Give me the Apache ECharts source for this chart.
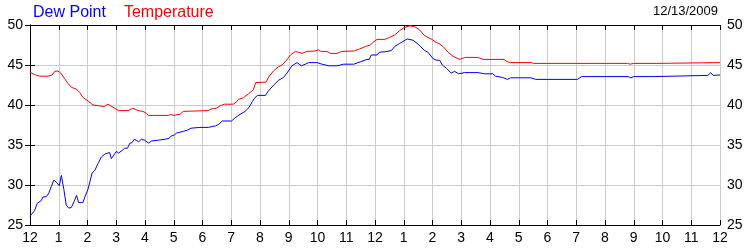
<!DOCTYPE html>
<html>
<head>
<meta charset="utf-8">
<script src="https://cdn.jsdelivr.net/npm/echarts@6/dist/echarts.min.js"></script>
<style>html,body{margin:0;padding:0;background:#fff}#c{width:750px;height:250px}</style>
</head>
<body>
<div id="c"></div>
<script>
// Hours since midnight (12/13/2009) and readings
const dewHours = [0.00,0.16,0.25,0.39,0.45,0.57,0.65,0.74,0.83,0.93,1.02,1.09,1.18,1.26,1.35,1.44,1.53,1.62,1.69,1.84,1.92,2.02,2.16,2.25,2.37,2.48,2.62,2.77,2.83,2.92,3.00,3.08,3.20,3.29,3.39,3.47,3.55,3.62,3.69,3.78,3.87,3.99,4.12,4.23,4.46,4.83,4.90,5.02,5.10,5.33,5.50,5.60,5.91,6.20,6.46,6.57,6.69,7.01,7.10,7.27,7.48,7.62,7.73,7.83,7.92,8.19,8.30,8.48,8.65,8.82,8.94,9.11,9.29,9.44,9.58,9.69,9.98,10.03,10.16,10.39,10.68,10.91,11.26,11.49,11.72,11.80,11.87,12.07,12.15,12.34,12.57,12.68,12.86,13.12,13.32,13.50,13.73,13.84,14.02,14.13,14.25,14.34,14.48,14.65,14.77,14.91,15.12,15.58,15.82,16.10,16.19,16.43,16.60,16.72,17.42,17.59,19.04,19.18,20.80,20.90,21.00,21.70,21.75,23.58,23.68,23.76,24.00];
const dewValues = [26.1,26.8,27.7,28.05,28.5,28.55,28.96,29.8,30.6,30.3,29.9,31.2,29.4,27.5,27.1,27.2,27.9,28.7,27.8,27.8,28.6,29.5,31.5,31.8,32.7,33.5,33.9,34.05,33.3,33.75,34.2,34.0,34.3,34.6,34.6,35.2,35.3,35.7,35.6,35.4,35.7,35.6,35.25,35.5,35.6,35.8,36.1,36.25,36.5,36.7,36.9,37.1,37.2,37.2,37.4,37.6,38.0,38.0,38.3,38.75,39.2,39.7,40.4,40.95,41.2,41.2,41.8,42.5,43.1,43.45,44.0,44.9,45.3,44.9,45.1,45.3,45.3,45.35,45.1,44.9,44.9,45.1,45.1,45.4,45.7,45.7,46.25,46.25,46.6,46.65,46.8,47.3,47.7,48.25,48.1,47.6,46.8,46.6,45.8,45.6,45.6,45.0,44.6,44.0,44.2,43.9,44.05,44.05,43.9,43.9,43.6,43.45,43.2,43.4,43.4,43.2,43.2,43.55,43.55,43.4,43.55,43.55,43.7,43.7,44.05,43.7,43.75];
const tempHours = [0.00,0.16,0.34,0.63,0.77,0.86,0.97,1.07,1.20,1.32,1.44,1.61,1.73,1.84,2.02,2.19,2.42,2.57,2.71,2.85,2.97,3.08,3.41,3.58,3.76,3.93,4.05,4.12,4.81,4.90,5.00,5.22,5.33,6.20,6.30,6.49,6.61,6.76,7.07,7.19,7.25,7.42,7.60,7.77,7.85,8.21,8.30,8.48,8.65,8.77,8.90,9.06,9.23,9.33,9.46,9.63,9.92,10.04,10.12,10.33,10.45,10.68,10.85,11.26,11.43,11.66,11.84,11.92,12.07,12.34,12.51,12.68,12.86,13.03,13.21,13.38,13.55,13.70,13.84,13.98,14.13,14.22,14.37,14.54,14.71,14.94,15.14,15.58,15.76,16.49,16.58,16.70,17.44,17.51,20.78,20.88,20.98,21.78,21.82,24.00];
const tempValues = [44.1,43.8,43.6,43.6,43.75,44.2,44.25,44.0,43.3,42.7,42.2,42.0,41.55,40.95,40.5,40.0,39.9,39.8,40.1,39.8,39.55,39.3,39.3,39.6,39.3,39.2,38.95,38.7,38.7,38.8,38.7,38.85,39.2,39.3,39.5,39.6,39.9,40.1,40.1,40.4,40.7,40.9,41.4,41.9,42.8,42.85,43.5,44.3,44.8,45.0,45.5,46.25,46.7,46.6,46.45,46.7,46.75,46.9,46.7,46.7,46.45,46.45,46.7,46.75,46.95,47.3,47.5,47.8,48.2,48.2,48.45,48.75,49.3,49.7,49.9,49.8,49.4,48.75,48.45,48.2,47.8,47.7,47.3,46.6,46.1,45.7,45.95,45.95,45.7,45.7,45.45,45.3,45.3,45.2,45.2,45.1,45.2,45.2,45.3,45.3];
const hourLabels = ['12','1','2','3','4','5','6','7','8','9','10','11','12','1','2','3','4','5','6','7','8','9','10','11','12'];
const yTicks = [25,30,35,40,45,50];
const dateText = '12/13/2009';

const FONT = "'Liberation Sans', Arial, sans-serif";
const chart = echarts.init(document.getElementById('c'), null, {renderer:'canvas'});
const dewData = dewHours.map((h,i)=>[h,dewValues[i]]);
const tempData = tempHours.map((h,i)=>[h,tempValues[i]]);

chart.setOption({
  animation:false,
  backgroundColor:'#fff',
  textStyle:{fontFamily:FONT},
  title:{text:dateText, right:27, top:0, textStyle:{fontSize:13, fontWeight:'normal', color:'#000', fontFamily:FONT}},
  legend:{
    left:23, top:0, itemGap:13, itemWidth:0, itemHeight:14, icon:'rect',
    selectedMode:false,
    textStyle:{fontSize:16, fontFamily:FONT},
    data:[
      {name:'Dew Point', textStyle:{color:'#0000ff'}},
      {name:'Temperature', textStyle:{color:'#ff0000'}}
    ]
  },
  grid:{left:30, right:30, top:25, bottom:25},
  xAxis:[{
    type:'value', min:0, max:24, interval:1, position:'bottom',
    axisLine:{lineStyle:{color:'#000', width:1}},
    axisTick:{inside:true, length:5, lineStyle:{color:'#000'}},
    axisLabel:{color:'#000', fontSize:14, margin:6, fontFamily:FONT,
      formatter:v=>hourLabels[Math.round(v)]},
    splitLine:{show:true, lineStyle:{color:'#cccccc', width:1}}
  },{
    type:'value', min:0, max:24, interval:1, position:'top',
    axisLine:{lineStyle:{color:'#000', width:1}},
    axisTick:{inside:true, length:5, lineStyle:{color:'#000'}},
    axisLabel:{show:false},
    splitLine:{show:false}
  }],
  yAxis:[{
    type:'value', min:yTicks[0], max:yTicks[yTicks.length-1], interval:5, position:'left',
    axisLine:{show:true, lineStyle:{color:'#000'}},
    axisTick:{show:true, inside:true, length:5, lineStyle:{color:'#000'}},
    axisLabel:{color:'#000', fontSize:14, margin:7, fontFamily:FONT},
    splitLine:{show:true, lineStyle:{color:'#cccccc', width:1}}
  },{
    type:'value', min:yTicks[0], max:yTicks[yTicks.length-1], interval:5, position:'right',
    axisLine:{show:true, lineStyle:{color:'#000'}},
    axisTick:{show:true, inside:true, length:5, lineStyle:{color:'#000'}},
    axisLabel:{color:'#000', fontSize:14, margin:7, fontFamily:FONT},
    splitLine:{show:false}
  }],
  series:[
    {name:'Dew Point', type:'line', xAxisIndex:0, yAxisIndex:0, data:dewData, showSymbol:false,
     lineStyle:{color:'#0000ff', width:1}, itemStyle:{color:'#0000ff'}},
    {name:'Temperature', type:'line', xAxisIndex:0, yAxisIndex:0, data:tempData, showSymbol:false,
     lineStyle:{color:'#ff0000', width:1}, itemStyle:{color:'#ff0000'}}
  ]
});
</script>
</body>
</html>
